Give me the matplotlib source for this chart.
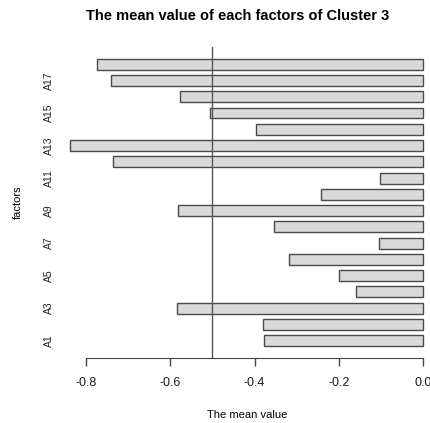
import matplotlib
matplotlib.use("Agg")
from matplotlib import pyplot as plt

# mean value per factor, A1 (bottom) .. A18 (top)
factors = ["A%d" % i for i in range(1, 19)]
means = [-0.378, -0.381, -0.584, -0.160, -0.199, -0.319, -0.105, -0.353, -0.581,
         -0.243, -0.103, -0.736, -0.837, -0.396, -0.506, -0.577, -0.740, -0.772]
ref_line = -0.5
xticks = [-0.8, -0.6, -0.4, -0.2, 0.0]

plt.rcParams['font.family'] = ['Liberation Sans', 'DejaVu Sans']

fig = plt.figure(figsize=(4.31, 4.23), dpi=100)
# plot region runs past the right edge like the cropped original
ax = fig.add_axes([0.1297, 0.1546, 0.8854, 0.7334])

# R barplot style: width 1, space 0.5
pos = [1.5 * (i + 1) - 0.5 for i in range(len(means))]
ax.barh(pos, means, height=1.0, color="#d9d9d9", edgecolor="#4a4a4a", linewidth=1.0)
ax.axvline(ref_line, color="#555555", linewidth=1.0)

ax.set_xlim(-0.8705, 0.0335)
ax.set_ylim(-0.56, 28.06)

for s in ["top", "right", "left"]:
    ax.spines[s].set_visible(False)
ax.spines["bottom"].set_bounds(-0.8, 0.0)
ax.spines["bottom"].set_color("#444444")

ax.set_xticks(xticks)
ax.set_xticklabels(["%.1f" % t for t in xticks], fontsize=9, color="#1a1a1a")
ax.tick_params(axis="x", length=6, width=1, color="#444444", pad=8)

ax.set_yticks(pos[::2])
ax.set_yticklabels(factors[::2], rotation=90, fontsize=7.5, va="center", color="#222222")
ax.tick_params(axis="y", length=0, pad=1.5)

ax.set_xlabel("The mean value", fontsize=8, labelpad=15)
ax.set_ylabel("factors", fontsize=8, labelpad=15)
fig.text(0.552, 0.962, "The mean value of each factors of Cluster 3",
         ha="center", va="center", fontsize=10.5, fontweight="bold")

fig.savefig("out.png", dpi=100)
